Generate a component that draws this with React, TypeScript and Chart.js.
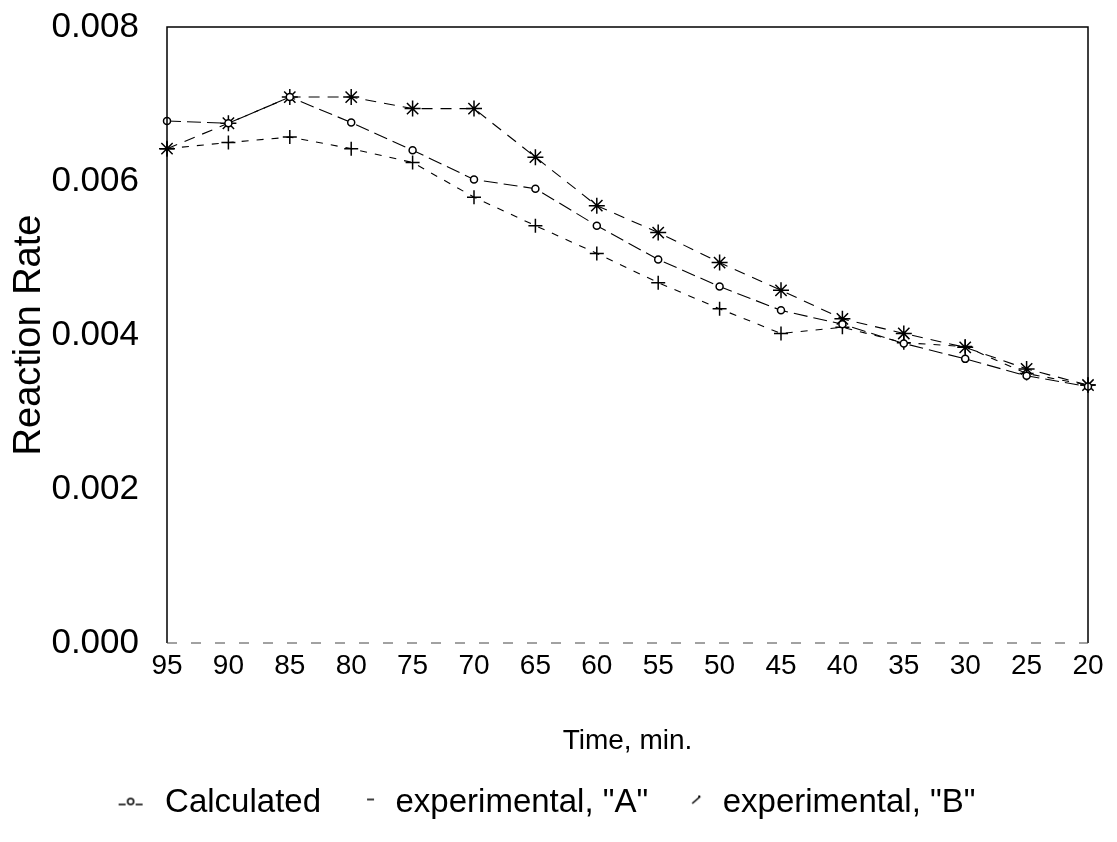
import React, { useEffect, useRef } from "react";
import { Chart, registerables } from "chart.js";

Chart.register(...registerables);

const timeLabels = ["95", "90", "85", "80", "75", "70", "65", "60", "55", "50", "45", "40", "35", "30", "25", "20"];
const calculated = [0.00678, 0.00675, 0.00709, 0.00676, 0.0064, 0.00602, 0.0059, 0.00542, 0.00498, 0.00463, 0.00432, 0.00414, 0.00389, 0.00369, 0.00347, 0.00333];
const experimentalA = [0.00642, 0.0065, 0.00657, 0.00642, 0.00624, 0.00579, 0.00542, 0.00506, 0.00468, 0.00434, 0.00402, 0.0041, 0.0039, 0.00385, 0.0035, 0.00335];
const experimentalB = [0.00642, 0.00675, 0.00709, 0.00709, 0.00694, 0.00694, 0.00631, 0.00568, 0.00533, 0.00494, 0.00458, 0.00421, 0.00402, 0.00384, 0.00356, 0.00335];
const yTicks = [0, 0.002, 0.004, 0.006, 0.008];

const FONT = "'Liberation Sans', Arial, sans-serif";

function makeMarker(kind: string): HTMLCanvasElement {
  const c = document.createElement("canvas");
  c.width = 36;
  c.height = 18;
  const g = c.getContext("2d")!;
  g.strokeStyle = "#000";
  g.fillStyle = "#000";
  g.lineWidth = 1.5;
  if (kind === "calc") {
    g.beginPath();
    g.moveTo(6, 11);
    g.lineTo(13, 11);
    g.moveTo(23, 11);
    g.lineTo(30, 11);
    g.stroke();
    g.beginPath();
    g.arc(18, 8, 3, 0, Math.PI * 2);
    g.stroke();
  } else if (kind === "A") {
    g.beginPath();
    g.moveTo(24, 6);
    g.lineTo(31, 6);
    g.stroke();
  } else {
    g.beginPath();
    g.moveTo(22, 10);
    g.lineTo(30, 3);
    g.stroke();
    g.fillRect(28, 2, 2, 2);
  }
  return c;
}

const framePlugin = {
  id: "frame",
  afterDatasetsDraw(chart: any) {
    const { ctx, chartArea } = chart;
    const { left, right, top, bottom } = chartArea;
    ctx.save();
    ctx.strokeStyle = "#000";
    ctx.lineWidth = 1.5;
    ctx.beginPath();
    ctx.moveTo(left, bottom);
    ctx.lineTo(left, top);
    ctx.lineTo(right, top);
    ctx.lineTo(right, bottom);
    ctx.stroke();
    ctx.strokeStyle = "#444";
    ctx.lineWidth = 1;
    ctx.setLineDash([10, 14]);
    ctx.beginPath();
    ctx.moveTo(left, bottom);
    ctx.lineTo(right, bottom);
    ctx.stroke();
    ctx.restore();
  },
};

export default function App() {
  const ref = useRef<HTMLCanvasElement | null>(null);

  useEffect(() => {
    if (!ref.current) return;
    const markers = [makeMarker("calc"), makeMarker("A"), makeMarker("B")];
    const chart = new Chart(ref.current, {
      type: "line",
      data: {
        labels: timeLabels,
        datasets: [
          {
            label: "Calculated",
            data: calculated,
            borderColor: "#000",
            backgroundColor: "#fff",
            borderWidth: 1.1,
            borderDash: [14, 6],
            pointStyle: "circle",
            pointRadius: 3.5,
            pointBorderWidth: 1.5,
            pointBorderColor: "#000",
            pointBackgroundColor: "#fff",
          },
          {
            label: 'experimental, "A"',
            data: experimentalA,
            borderColor: "#000",
            backgroundColor: "#000",
            borderWidth: 1.1,
            borderDash: [7, 8],
            pointStyle: "cross",
            pointRadius: 7,
            pointBorderWidth: 1.5,
            pointBorderColor: "#000",
          },
          {
            label: 'experimental, "B"',
            data: experimentalB,
            borderColor: "#000",
            backgroundColor: "#000",
            borderWidth: 1.1,
            borderDash: [11, 8],
            pointStyle: "star",
            pointRadius: 8,
            pointBorderWidth: 1.5,
            pointBorderColor: "#000",
          },
        ],
      },
      options: {
        responsive: false,
        animation: false,
        layout: { padding: { top: 27, right: 29, left: 0, bottom: 13 } },
        plugins: {
          legend: {
            position: "bottom",
            labels: {
              usePointStyle: true,
              pointStyleWidth: 36,
              boxHeight: 18,
              color: "#000",
              font: { family: FONT, size: 33 },
              padding: 22,
              generateLabels(ch: any) {
                const items = Chart.defaults.plugins.legend.labels.generateLabels(ch);
                items.forEach((it: any, i: number) => {
                  it.pointStyle = markers[i];
                });
                return items;
              },
            },
          },
          tooltip: { enabled: false },
        },
        scales: {
          x: {
            type: "category",
            offset: false,
            grid: { display: false, drawTicks: false },
            border: { display: false },
            ticks: {
              color: "#000",
              font: { family: FONT, size: 28 },
              padding: 6,
              maxRotation: 0,
              autoSkip: false,
            },
            title: {
              display: true,
              text: "Time, min.",
              color: "#000",
              font: { family: FONT, size: 28 },
              padding: { top: 0, bottom: 6 },
            },
            afterFit(scale: any) {
              scale.height = 121;
            },
          },
          y: {
            min: 0,
            max: 0.008,
            grid: { display: false, drawTicks: false },
            border: { display: false },
            afterBuildTicks(scale: any) {
              scale.ticks = yTicks.map((v) => ({ value: v }));
            },
            ticks: {
              color: "#000",
              font: { family: FONT, size: 35 },
              padding: 28,
              callback: (v: any) => Number(v).toFixed(3),
            },
            title: {
              display: true,
              text: "Reaction Rate",
              color: "#000",
              font: { family: FONT, size: 38 },
              padding: { top: 7, bottom: 0 },
            },
            afterFit(scale: any) {
              scale.width = 167;
              scale.paddingTop = 0;
              scale.paddingBottom = 0;
            },
          },
        },
      },
      plugins: [framePlugin],
    });
    return () => chart.destroy();
  }, []);

  return (
    <div style={{ position: "absolute", left: 0, top: 0, width: 1117, height: 842, background: "#fff" }}>
      <canvas ref={ref} width={1117} height={842} />
    </div>
  );
}
